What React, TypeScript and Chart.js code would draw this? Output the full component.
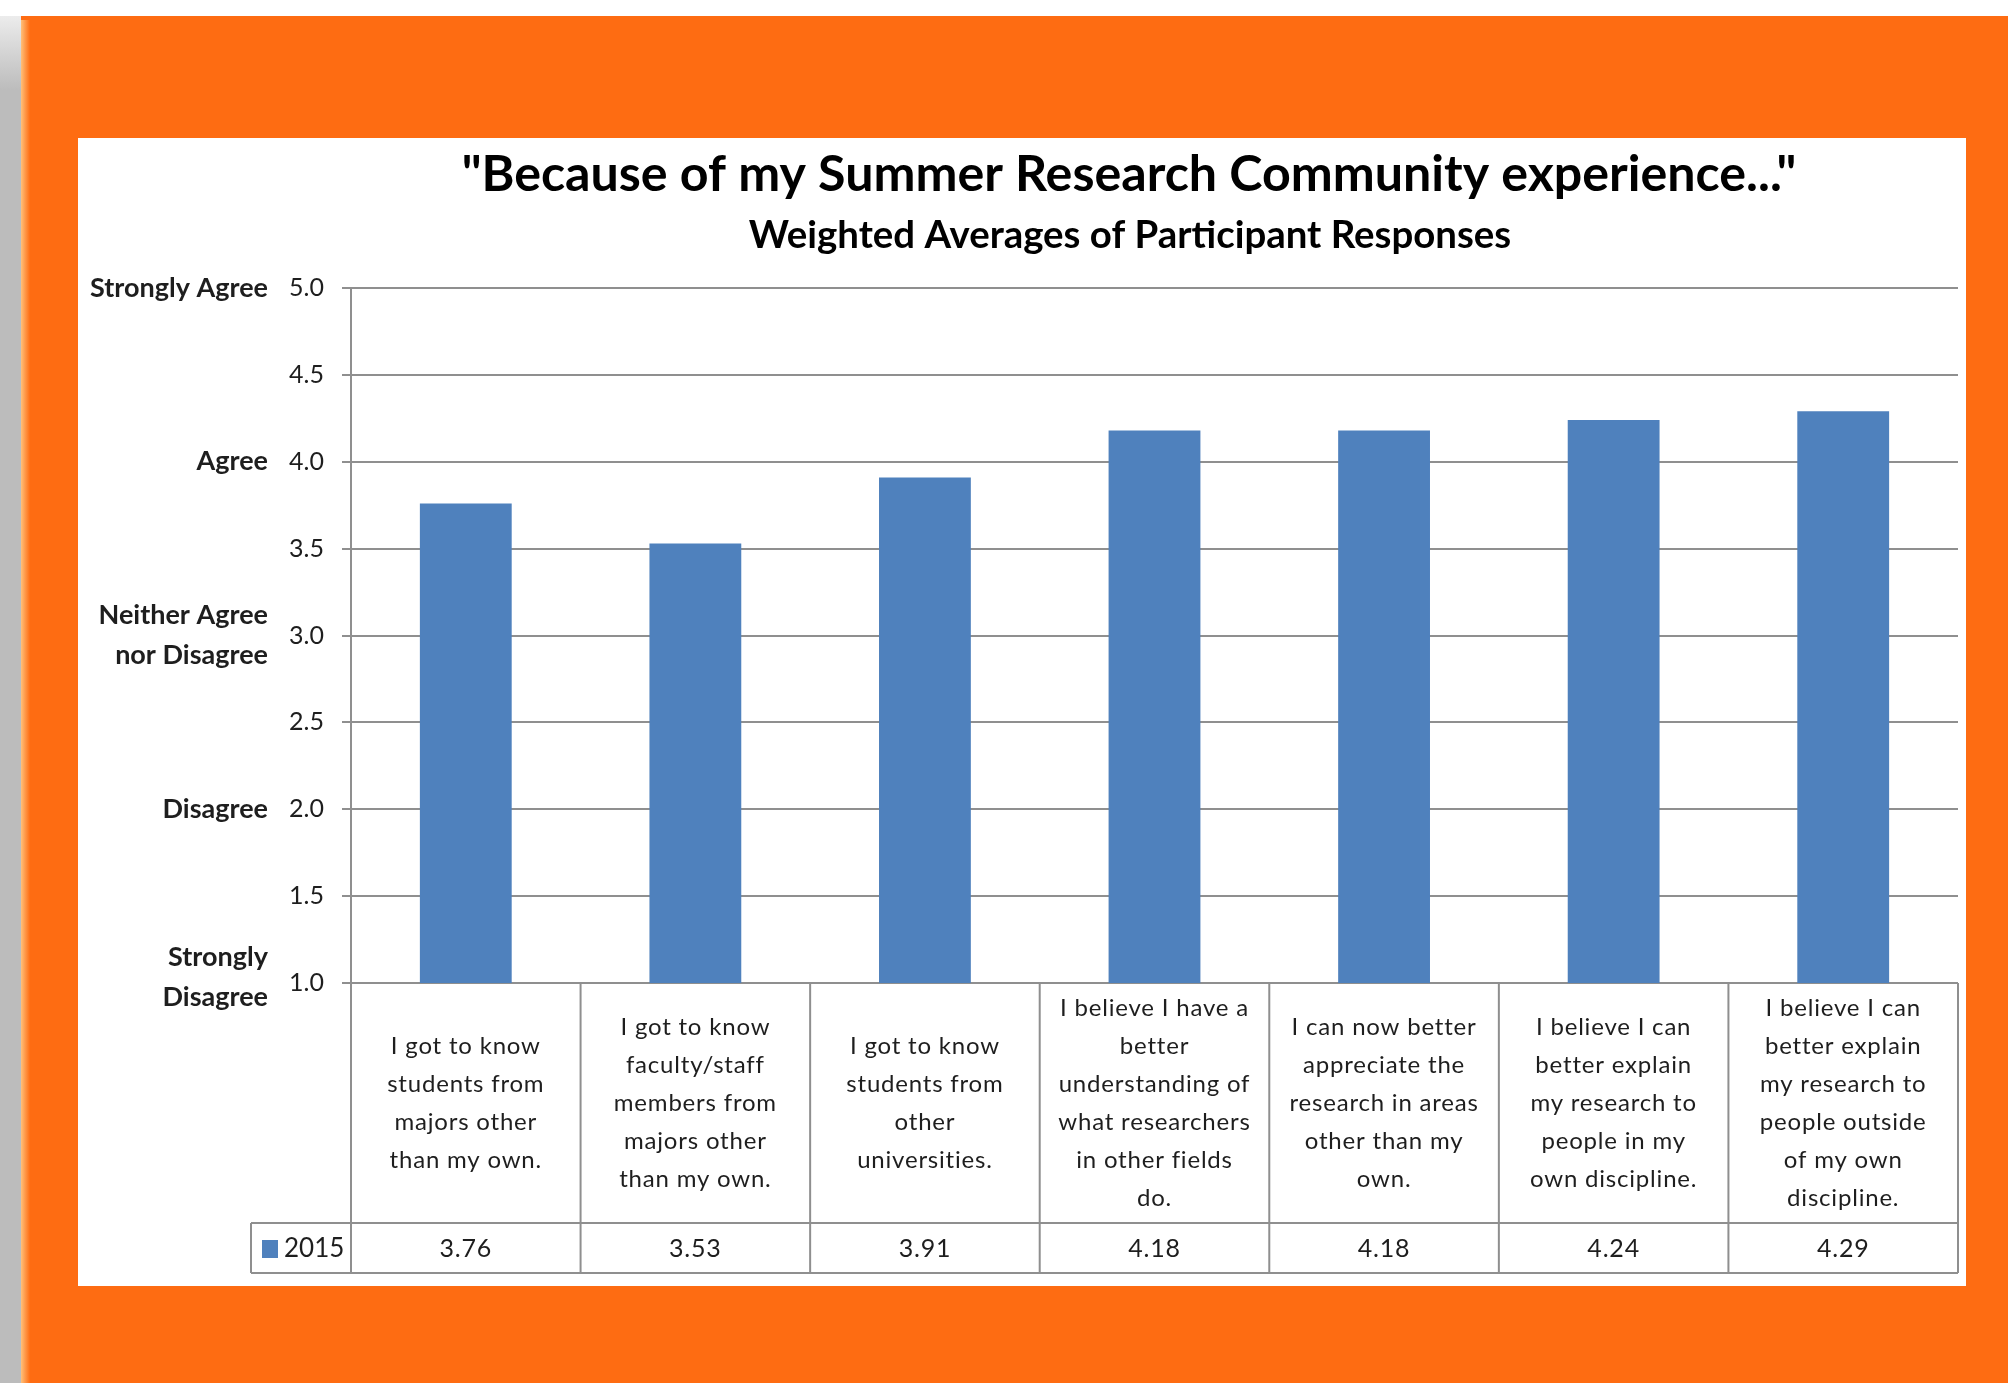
import React, { useEffect, useRef } from "react";
import { Chart, registerables } from "chart.js";

Chart.register(...registerables);

// ---------- data ----------
const categoryLines: string[][] = [
  ["I got to know", "students from", "majors other", "than my own."],
  ["I got to know", "faculty/staff", "members from", "majors other", "than my own."],
  ["I got to know", "students from", "other", "universities."],
  ["I believe I have a", "better", "understanding of", "what researchers", "in other fields", "do."],
  ["I can now better", "appreciate the", "research in areas", "other than my", "own."],
  ["I believe I can", "better explain", "my research to", "people in my", "own discipline."],
  ["I believe I can", "better explain", "my research to", "people outside", "of my own", "discipline."],
];
const values2015: number[] = [3.76, 3.53, 3.91, 4.18, 4.18, 4.24, 4.29];
const seriesLabel = "2015";
const yMin = 1;
const yMax = 5;
const yStep = 0.5;
const agreementValues: number[] = [5, 4, 3, 2, 1];
const agreementLabels: string[][] = [
  ["Strongly Agree"],
  ["Agree"],
  ["Neither Agree", "nor Disagree"],
  ["Disagree"],
  ["Strongly", "Disagree"],
];
const titleText = '"Because of my Summer Research Community experience..."';
const subtitleText = "Weighted Averages of Participant Responses";

// ---------- styles ----------
const W = 2008;
const H = 1383;
const FONT = "Lato, 'Open Sans', sans-serif";
const ORANGE = "#fe6c12";
const BAR = "#4f81bd";
const GRID = "#8f8f8f";
const TEXT = "#1e1e1e";

function fitFont(ctx: CanvasRenderingContext2D, text: string, weight: string, base: number, target: number) {
  ctx.font = `${weight} ${base}px ${FONT}`;
  const w = ctx.measureText(text).width;
  return Math.min(base * 1.2, (base * target) / w);
}

const decorPlugin = {
  id: "decor",
  beforeDraw(chart: any) {
    const ctx: CanvasRenderingContext2D = chart.ctx;
    ctx.save();
    ctx.fillStyle = "#ffffff";
    ctx.fillRect(0, 0, W, H);
    // gray strip on the left
    const g = ctx.createLinearGradient(0, 16, 0, 90);
    g.addColorStop(0, "#ececec");
    g.addColorStop(1, "#bcbcbc");
    ctx.fillStyle = g;
    ctx.fillRect(0, 16, 21, H - 16);
    // orange frame
    ctx.fillStyle = ORANGE;
    ctx.fillRect(21, 16, W - 21, H - 16);
    const e = ctx.createLinearGradient(21, 0, 30, 0);
    e.addColorStop(0, "#ffc07a");
    e.addColorStop(1, ORANGE);
    ctx.fillStyle = e;
    ctx.fillRect(21, 20, 9, H - 20);
    // white panel
    ctx.fillStyle = "#ffffff";
    ctx.fillRect(78, 138, 1966 - 78, 1286 - 138);

    // titles
    ctx.fillStyle = "#000000";
    ctx.textAlign = "center";
    ctx.textBaseline = "alphabetic";
    const ts = fitFont(ctx, titleText, "bold", 48, 1335);
    ctx.font = `bold ${ts}px ${FONT}`;
    ctx.fillText(titleText, 1129, 191);
    const ss = fitFont(ctx, subtitleText, "bold", 32, 765);
    ctx.font = `bold ${ss}px ${FONT}`;
    ctx.fillText(subtitleText, 1130, 248);
    ctx.restore();
  },
  afterDraw(chart: any) {
    const ctx: CanvasRenderingContext2D = chart.ctx;
    const ca = chart.chartArea;
    const xs = chart.scales.x;
    const ys = chart.scales.y;
    const n = categoryLines.length;
    const cw = (ca.right - ca.left) / n;
    const headerTop = ca.bottom;
    const headerBottom = ca.bottom + 240;
    const rowBottom = headerBottom + 50;
    const legendLeft = 251;

    ctx.save();
    // agreement labels on the left
    ctx.fillStyle = TEXT;
    ctx.textAlign = "right";
    ctx.textBaseline = "middle";
    ctx.font = `bold 27px ${FONT}`;
    agreementValues.forEach((v, i) => {
      const lines = agreementLabels[i];
      const cy = ys.getPixelForValue(v) - (lines.length > 1 && v === yMin ? 6 : 0);
      const lh = 40;
      lines.forEach((t, j) => {
        ctx.fillText(t, 268, cy + (j - (lines.length - 1) / 2) * lh);
      });
    });

    // table borders
    ctx.strokeStyle = GRID;
    ctx.lineWidth = 2;
    ctx.beginPath();
    for (let i = 0; i <= n; i++) {
      const x = i < n ? xs.getPixelForValue(i) - cw / 2 : xs.getPixelForValue(n - 1) + cw / 2;
      ctx.moveTo(x, headerTop);
      ctx.lineTo(x, rowBottom);
    }
    ctx.moveTo(legendLeft, headerBottom);
    ctx.lineTo(ca.right, headerBottom);
    ctx.moveTo(legendLeft, rowBottom);
    ctx.lineTo(ca.right, rowBottom);
    ctx.moveTo(legendLeft, headerBottom);
    ctx.lineTo(legendLeft, rowBottom);
    ctx.stroke();

    // category labels
    ctx.textAlign = "center";
    ctx.textBaseline = "middle";
    ctx.font = `24px ${FONT}`;
    (ctx as any).letterSpacing = "0.8px";
    const hc = (headerTop + headerBottom) / 2;
    categoryLines.forEach((lines, i) => {
      const cx = xs.getPixelForValue(i);
      const lh = 38;
      lines.forEach((t, j) => {
        ctx.fillText(t, cx, hc + (j - (lines.length - 1) / 2) * lh);
      });
    });

    // values row
    const rc = (headerBottom + rowBottom) / 2 + 1;
    ctx.font = `25px ${FONT}`;
    values2015.forEach((v, i) => {
      ctx.fillText(v.toFixed(2), xs.getPixelForValue(i), rc);
    });
    (ctx as any).letterSpacing = "0px";

    // legend key
    ctx.fillStyle = BAR;
    ctx.fillRect(262, rc - 9, 16, 18);
    ctx.fillStyle = TEXT;
    ctx.textAlign = "left";
    ctx.font = `26px ${FONT}`;
    ctx.fillText(seriesLabel, 284, rc);
    ctx.restore();
  },
};

export default function App() {
  const ref = useRef<HTMLCanvasElement | null>(null);
  useEffect(() => {
    if (!ref.current) return;
    const chart = new Chart(ref.current, {
      type: "bar",
      data: {
        labels: categoryLines.map((l) => l.join(" ")),
        datasets: [
          {
            label: seriesLabel,
            data: values2015,
            backgroundColor: BAR,
            borderWidth: 0,
            categoryPercentage: 1,
            barPercentage: 0.4,
          },
        ],
      },
      options: {
        responsive: false,
        animation: false,
        events: [],
        layout: { padding: { left: 0, top: 288, right: 50, bottom: 400 } },
        plugins: { legend: { display: false }, tooltip: { enabled: false }, title: { display: false } },
        scales: {
          x: { display: false, offset: true },
          y: {
            min: yMin,
            max: yMax,
            ticks: {
              stepSize: yStep,
              padding: 18,
              color: TEXT,
              font: { family: FONT, size: 25 },
              callback: (v: any) => Number(v).toFixed(1),
            },
            grid: { color: GRID, lineWidth: 2, tickLength: 9, drawTicks: true },
            border: { display: true, color: GRID, width: 2 },
            afterFit: (s: any) => {
              s.width = 351;
            },
          },
        },
      },
      plugins: [decorPlugin],
    });
    return () => chart.destroy();
  }, []);
  return (
    <div style={{ position: "fixed", left: 0, top: 0, width: W, height: H, overflow: "hidden" }}>
      <canvas ref={ref} width={W} height={H} style={{ width: W, height: H, display: "block" }} />
    </div>
  );
}
